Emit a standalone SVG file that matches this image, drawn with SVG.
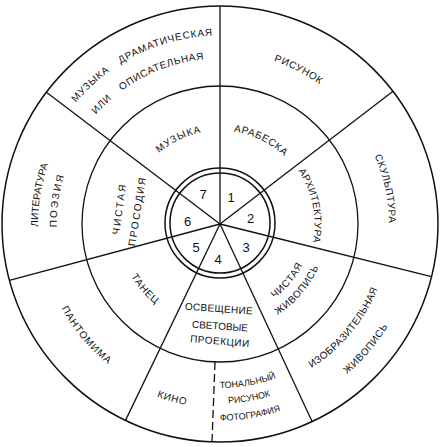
<svg xmlns="http://www.w3.org/2000/svg" width="440" height="447" viewBox="0 0 440 447">
<style>
.ln{fill:none;stroke:#111;stroke-width:1.3}
.t{font-family:"Liberation Sans",Arial,sans-serif;font-size:10px;fill:#111}
.s{font-size:9px}
.n{font-family:"Liberation Sans",Arial,sans-serif;font-size:13px;fill:#111;text-anchor:middle}
</style>
<defs>
<path id="pA" d="M41.8,162.6 A188.5,188.5 0 0 1 281.4,45.8"/>
<path id="pB" d="M62.6,172.9 A165.5,165.5 0 0 1 271.1,66.6"/>
<path id="pC" d="M167,60.9 A171.5,171.5 0 0 1 383.1,171"/>
<path id="pD" d="M312,82.3 A169,169 0 0 1 361.7,316"/>
<path id="pE" d="M234.9,393.9 A170.5,170.5 0 0 0 389.9,209.1"/>
<path id="pF" d="M235.4,419.9 A196.5,196.5 0 0 0 415.9,208.6"/>
<path id="pG" d="M125.9,358.3 A164,164 0 0 0 354.3,318.1"/>
<path id="pH" d="M115.8,370.1 A179.5,179.5 0 0 0 366.1,328.2"/>
<path id="pI" d="M104.5,383 A196.5,196.5 0 0 0 379,339.5"/>
<path id="pJ" d="M60.2,315.2 A184,184 0 0 0 311.2,383.8"/>
<path id="pK" d="M41.4,207.8 A179.3,179.3 0 0 0 203.8,402.6"/>
<path id="pL" d="M72.5,330.4 A181.8,181.8 0 0 1 113.6,76.5"/>
<path id="pM" d="M89.2,321.5 A163.1,163.1 0 0 1 122.5,93.2"/>
<path id="pN" d="M131.6,193.6 A93.5,93.5 0 0 1 250.4,135.6"/>
<path id="pO" d="M189.6,135.6 A93.5,93.5 0 0 1 308.4,193.6"/>
<path id="pP" d="M272.2,145.2 A94.5,94.5 0 0 1 298.8,276.2"/>
<path id="pQ" d="M228,315.7 A92,92 0 0 0 311.7,216"/>
<path id="pR" d="M228.4,331.2 A107.5,107.5 0 0 0 327.2,215.6"/>
<path id="pS" d="M117.2,216.8 A103,103 0 0 0 212.8,326.8"/>
</defs>
<rect width="440" height="447" fill="#fff"/>
<g id="rings" class="ln">
<circle cx="220" cy="224" r="218" stroke-width="1.5"/>
<circle cx="220" cy="224" r="138"/>
<circle cx="220" cy="223" r="55" stroke-width="1.5"/>
<circle cx="220" cy="223" r="50" stroke-width="1.5"/>
</g>
<g id="connectors" class="ln">
<path d="M220,224 L220,6"/>
<path d="M220,224 L393,91.3"/>
<path d="M220,224 L431.5,276.7"/>
<path d="M220,224 L312.1,421.6"/>
<path d="M220,224 L125.5,420.4"/>
<path d="M220,224 L9.4,280.4"/>
<path d="M220,224 L46.4,92.2"/>
<path d="M215,362 L212,442" stroke-dasharray="8 4"/>
</g>
<g id="numbers">
<text class="n" x="231" y="202">1</text>
<text class="n" x="250.5" y="223">2</text>
<text class="n" x="246" y="252">3</text>
<text class="n" x="218" y="263.5">4</text>
<text class="n" x="196" y="252">5</text>
<text class="n" x="187.5" y="225.5">6</text>
<text class="n" x="203" y="199">7</text>
</g>
<g id="muzyka-dramaticheskaya"><text class="t" letter-spacing="0.8" word-spacing="9" text-anchor="middle"><textPath href="#pA" startOffset="50%">МУЗЫКА ДРАМАТИЧЕСКАЯ</textPath></text>
<text class="t" letter-spacing="0.6" word-spacing="9" text-anchor="middle"><textPath href="#pB" startOffset="50%">ИЛИ ОПИСАТЕЛЬНАЯ</textPath></text></g>
<g id="risunok"><text class="t" letter-spacing="0.6" text-anchor="middle"><textPath href="#pC" startOffset="50%">РИСУНОК</textPath></text></g>
<g id="skulptura"><text class="t" letter-spacing="0.5" text-anchor="middle"><textPath href="#pD" startOffset="50%">СКУЛЬПТУРА</textPath></text></g>
<g id="izobrazitelnaya"><text class="t" letter-spacing="0.3" text-anchor="middle"><textPath href="#pE" startOffset="50%">ИЗОБРАЗИТЕЛЬНАЯ</textPath></text>
<text class="t" letter-spacing="0.6" text-anchor="middle"><textPath href="#pF" startOffset="50%">ЖИВОПИСЬ</textPath></text></g>
<g id="tonalny"><text class="t s" text-anchor="middle"><textPath href="#pG" startOffset="50%">ТОНАЛЬНЫЙ</textPath></text>
<text class="t s" text-anchor="middle"><textPath href="#pH" startOffset="50%">РИСУНОК</textPath></text>
<text class="t s" text-anchor="middle"><textPath href="#pI" startOffset="50%">ФОТОГРАФИЯ</textPath></text></g>
<g id="kino"><text class="t" letter-spacing="0.7" text-anchor="middle"><textPath href="#pJ" startOffset="50%">КИНО</textPath></text></g>
<g id="pantomima"><text class="t" letter-spacing="1" text-anchor="middle"><textPath href="#pK" startOffset="50%">ПАНТОМИМА</textPath></text></g>
<g id="literatura"><text class="t" text-anchor="middle"><textPath href="#pL" startOffset="50%">ЛИТЕРАТУРА</textPath></text>
<text class="t" letter-spacing="1.9" text-anchor="middle"><textPath href="#pM" startOffset="50%">ПОЭЗИЯ</textPath></text></g>
<g id="muzyka"><text class="t" letter-spacing="1" text-anchor="middle"><textPath href="#pN" startOffset="50%">МУЗЫКА</textPath></text></g>
<g id="arabeska"><text class="t" letter-spacing="0.6" text-anchor="middle"><textPath href="#pO" startOffset="50%">АРАБЕСКА</textPath></text></g>
<g id="arkhitektura"><text class="t" letter-spacing="0.4" text-anchor="middle"><textPath href="#pP" startOffset="50%">АРХИТЕКТУРА</textPath></text></g>
<g id="chistaya-zhivopis"><text class="t" letter-spacing="0.7" text-anchor="middle"><textPath href="#pQ" startOffset="50%">ЧИСТАЯ</textPath></text>
<text class="t" letter-spacing="0.7" text-anchor="middle"><textPath href="#pR" startOffset="50%">ЖИВОПИСЬ</textPath></text></g>
<g id="osveshchenie" text-anchor="middle">
<text class="t" letter-spacing="0.3" transform="translate(219,308.5) rotate(4)" y="3.6">ОСВЕЩЕНИЕ</text>
<text class="t" transform="translate(220,326) rotate(4)" y="3.6">СВЕТОВЫЕ</text>
<text class="t" letter-spacing="0.5" transform="translate(220,341) rotate(5)" y="3.6">ПРОЕКЦИИ</text>
</g>
<g id="tanets"><text class="t" letter-spacing="0.8" text-anchor="middle"><textPath href="#pS" startOffset="50%">ТАНЕЦ</textPath></text></g>
<g id="chistaya-prosodiya" text-anchor="middle">
<text class="t" letter-spacing="2" transform="translate(119,208.5) rotate(-82)" y="3.6">ЧИСТАЯ</text>
<text class="t" letter-spacing="1.7" transform="translate(137,211) rotate(-81)" y="3.6">ПРОСОДИЯ</text>
</g>
</svg>
